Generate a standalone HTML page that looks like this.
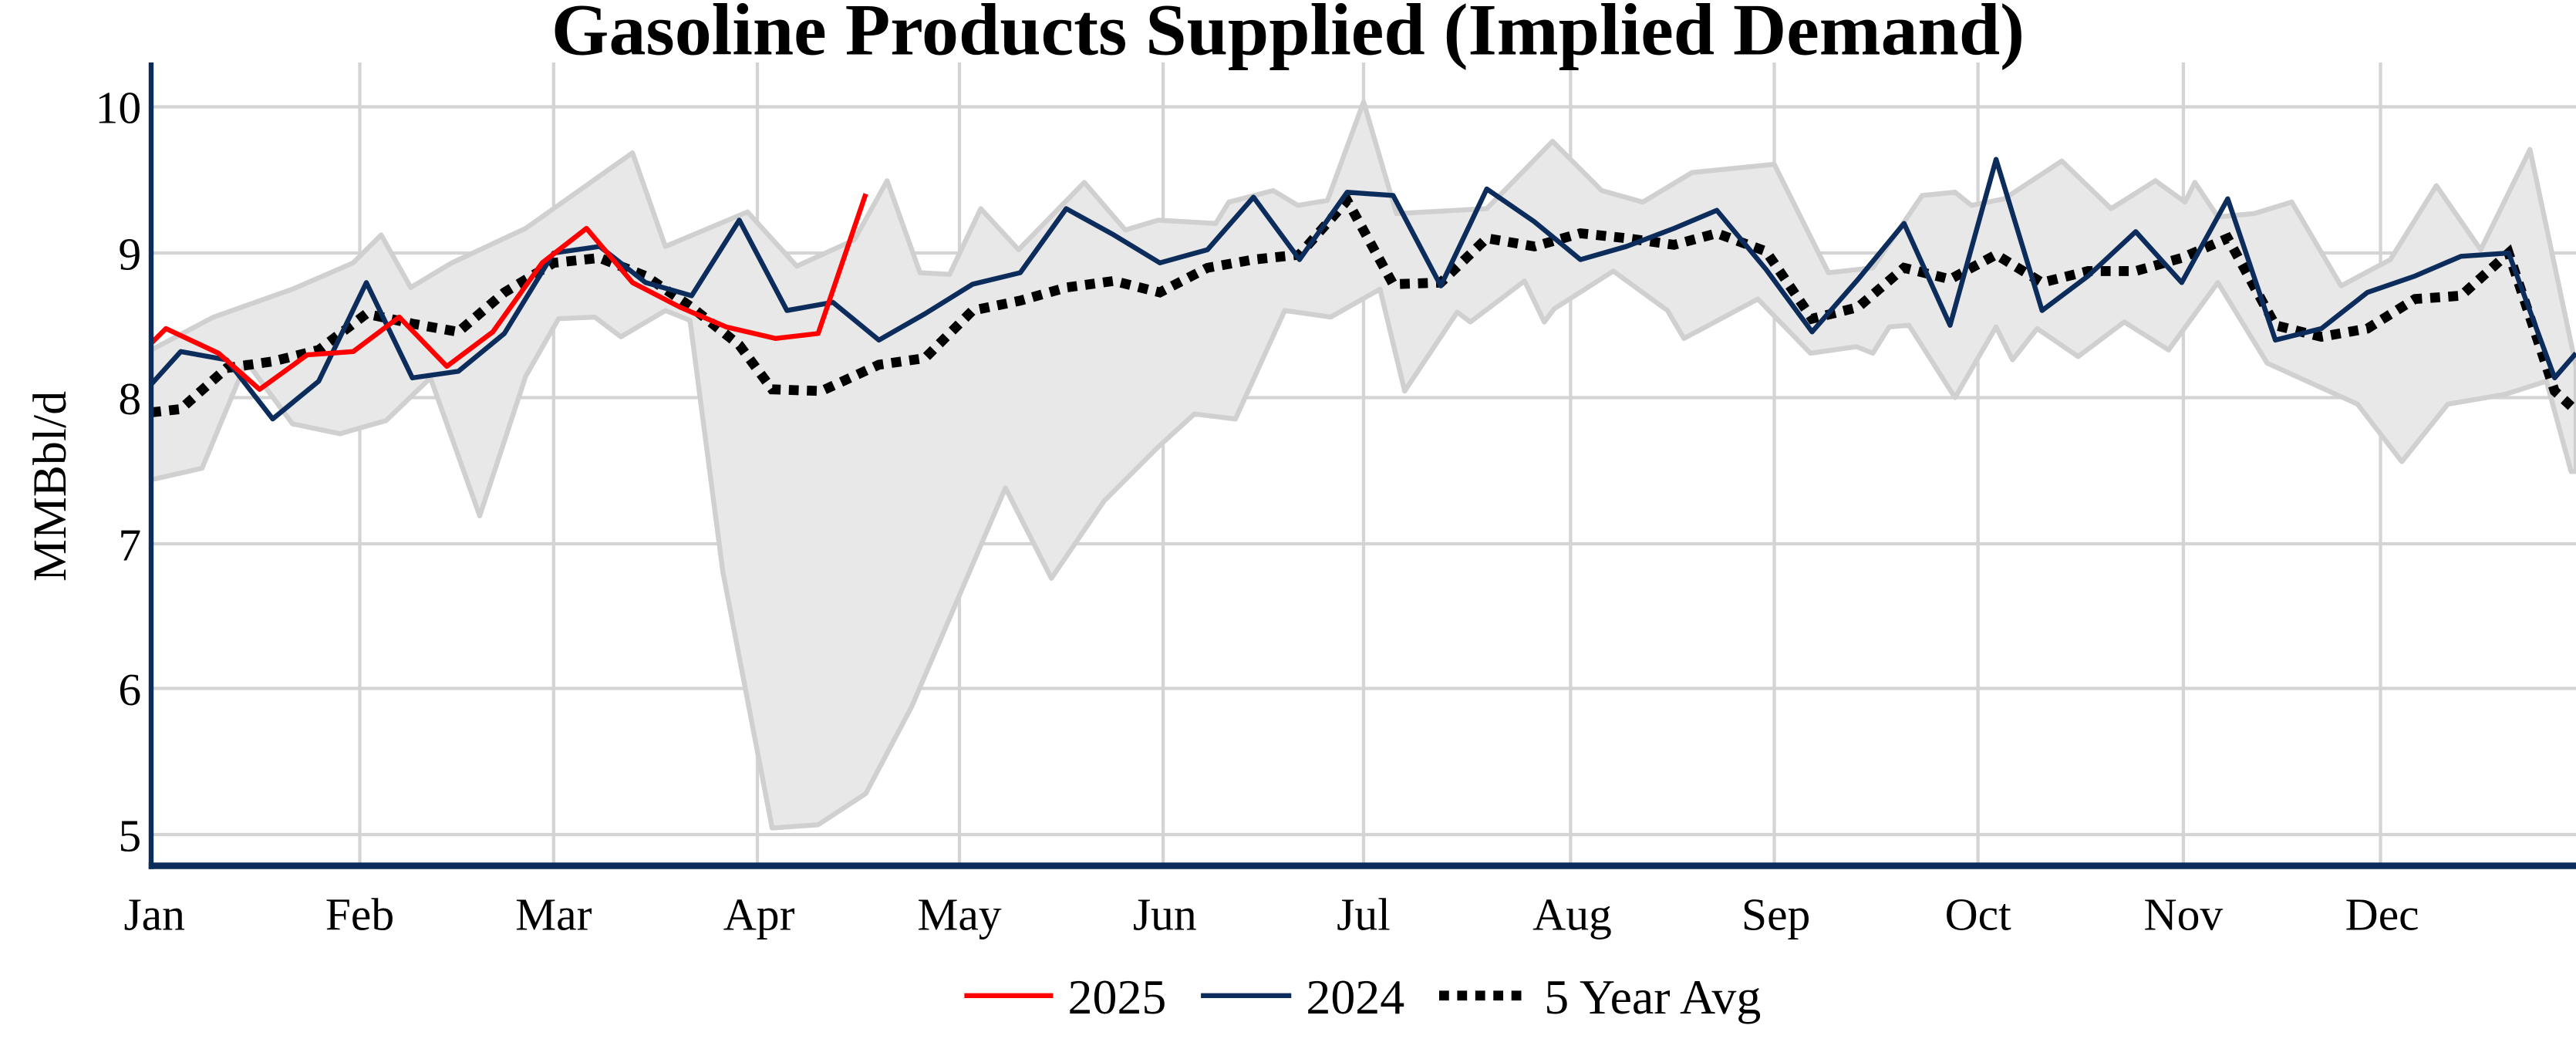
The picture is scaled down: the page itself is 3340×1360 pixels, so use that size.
<!DOCTYPE html>
<html><head><meta charset="utf-8"><style>html,body{margin:0;padding:0;background:#fff}svg{display:block}</style></head>
<body>
<svg width="3340" height="1360" viewBox="0 0 1568 638.5" preserveAspectRatio="none" xmlns="http://www.w3.org/2000/svg" font-family="'Liberation Serif', serif">
<rect width="1568" height="638.5" fill="#fff"/>
<g stroke="#d4d4d4" stroke-width="2">
<line x1="92" x2="1568" y1="65" y2="65"/><line x1="92" x2="1568" y1="154" y2="154"/><line x1="92" x2="1568" y1="242" y2="242"/><line x1="92" x2="1568" y1="331" y2="331"/><line x1="92" x2="1568" y1="419" y2="419"/><line x1="92" x2="1568" y1="508" y2="508"/>
<line x1="219" x2="219" y1="38" y2="527"/><line x1="337" x2="337" y1="38" y2="527"/><line x1="461" x2="461" y1="38" y2="527"/><line x1="584" x2="584" y1="38" y2="527"/><line x1="708" x2="708" y1="38" y2="527"/><line x1="830" x2="830" y1="38" y2="527"/><line x1="956" x2="956" y1="38" y2="527"/><line x1="1080" x2="1080" y1="38" y2="527"/><line x1="1204" x2="1204" y1="38" y2="527"/><line x1="1329" x2="1329" y1="38" y2="527"/><line x1="1449" x2="1449" y1="38" y2="527"/>
</g>
<polygon fill="#e8e8e8" stroke="#d0d0d0" stroke-width="3" stroke-linejoin="round" points="92,213 130,193 178,176 215,160 232,143 250,175 275,160 320,139 385,93 405,150 455,129 485,162 520,146 540,110 560,166 578,167 597,127 620,152 660,111 685,140 705,134 740,136 748,123 775,116 790,125 808,122 830,62 850,130 905,127 945,86 975,116 1000,123 1030,105 1080,100 1113,166 1140,163 1170,119 1190,117 1200,125 1220,121 1255,98 1285,127 1312,110 1330,123 1336,111 1350,132 1372,130 1395,123 1425,174 1455,158 1483,113 1510,152 1540,91 1568,223 1568,287 1565,287 1550,232 1525,240 1490,246 1462,281 1435,246 1380,221 1350,172 1320,213 1293,196 1265,217 1240,200 1225,219 1215,199 1190,242 1162,198 1150,199 1140,215 1130,211 1102,215 1070,182 1025,206 1015,189 982,165 946,188 940,196 928,171 895,196 887,190 855,238 840,176 810,193 782,189 752,255 727,252 705,272 672,305 640,352 612,297 555,430 527,483 498,502 470,504 440,348 420,195 405,189 378,205 362,193 340,194 320,229 292,314 262,230 235,256 207,264 178,258 150,220 123,285 92,292"/>
<polyline fill="none" stroke="#000" stroke-width="6" stroke-dasharray="6,5" points="92,251 110,249 138,224 166,220 194,213 223,191 251,197 279,202 307,178 337,160 365,157 393,168 421,187 450,210 470,237 500,238 535,222 563,218 592,189 621,183 649,175 678,171 706,178 735,163 763,158 791,155 820,122 848,173 877,172 905,145 934,150 962,142 990,145 1019,149 1045,142 1075,153 1103,194 1131,187 1159,163 1187,170 1215,155 1243,172 1271,165 1300,165 1328,157 1356,145 1385,198 1413,205 1441,200 1470,182 1498,180 1527,154 1555,238 1568,250"/>
<polyline fill="none" stroke="#0c2c5c" stroke-width="3" stroke-linejoin="round" points="92,234 110,214 138,219 166,255 194,232 223,172 251,230 279,226 307,203 337,154 365,150 393,172 421,180 450,134 479,189 507,184 535,207 563,191 592,173 621,166 649,127 678,143 706,160 735,152 763,120 791,158 820,117 848,119 877,174 905,115 934,135 962,158 990,150 1019,139 1045,128 1075,164 1103,202 1131,170 1159,136 1187,198 1215,97 1243,189 1271,168 1300,141 1328,172 1356,121 1385,207 1413,200 1441,178 1470,168 1498,156 1527,154 1555,230 1568,215"/>
<polyline fill="none" stroke="#ff0000" stroke-width="3" stroke-linejoin="round" points="92,209 101,200 133,215 158,237 187,216 215,214 243,193 272,223 300,202 330,160 357,139 385,172 414,187 442,199 472,206 498,203 527,118"/>
<line x1="92" y1="38" x2="92" y2="529" stroke="#0c2c5c" stroke-width="3"/>
<line x1="90.5" y1="527" x2="1568" y2="527" stroke="#0c2c5c" stroke-width="4"/>
<text x="784" y="33" font-size="45" font-weight="bold" text-anchor="middle">Gasoline Products Supplied (Implied Demand)</text>
<g font-size="28" text-anchor="end">
<text x="86" y="75">10</text><text x="86" y="164">9</text><text x="86" y="252">8</text><text x="86" y="341">7</text><text x="86" y="429">6</text><text x="86" y="518">5</text>
</g>
<text transform="translate(40,296) rotate(-90)" font-size="29" text-anchor="middle">MMBbl/d</text>
<g font-size="28" text-anchor="middle">
<text x="94" y="566">Jan</text><text x="219" y="566">Feb</text><text x="337" y="566">Mar</text><text x="462" y="566">Apr</text><text x="584" y="566">May</text><text x="709" y="566">Jun</text><text x="830" y="566">Jul</text><text x="957" y="566">Aug</text><text x="1081" y="566">Sep</text><text x="1204" y="566">Oct</text><text x="1329" y="566">Nov</text><text x="1450" y="566">Dec</text>
</g>
<g font-size="30">
<line x1="587" x2="641" y1="606" y2="606" stroke="#ff0000" stroke-width="3"/><text x="650" y="617">2025</text>
<line x1="731" x2="786" y1="606" y2="606" stroke="#0c2c5c" stroke-width="3"/><text x="795" y="617">2024</text>
<line x1="876" x2="931" y1="606" y2="606" stroke="#000" stroke-width="6" stroke-dasharray="6,5"/><text x="940" y="617">5 Year Avg</text>
</g>
</svg>
</body></html>
